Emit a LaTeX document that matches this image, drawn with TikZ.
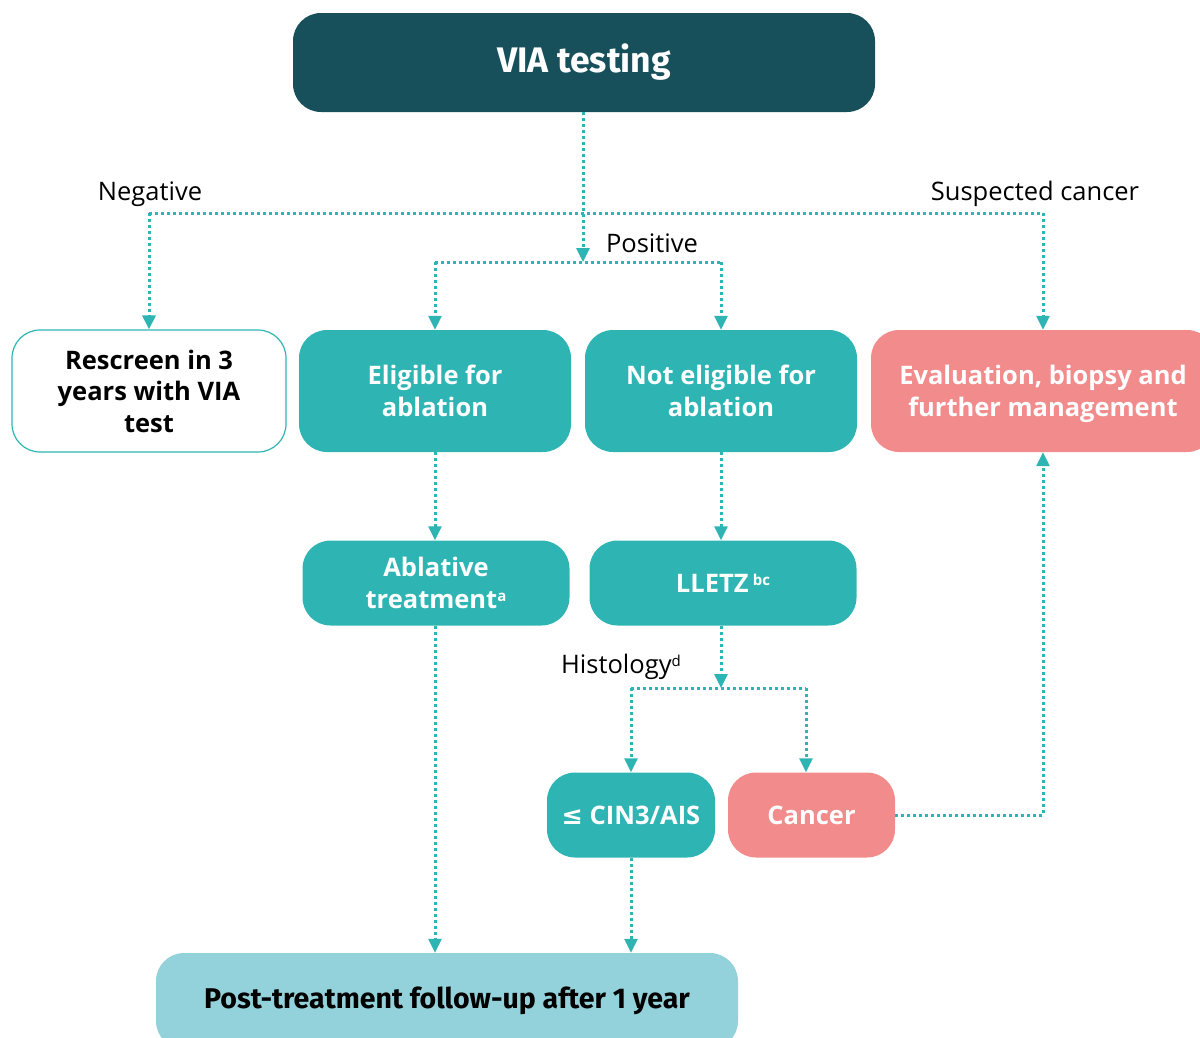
\documentclass[tikz,border=0pt]{standalone}
\usepackage{fontspec}
\setmainfont{Open Sans}
\newfontfamily\headfont{Fira Sans}
\newfontfamily\symfont{DejaVu Sans}
\usetikzlibrary{arrows.meta}
\definecolor{darkteal}{HTML}{17505B}
\definecolor{teal}{HTML}{2EB5B3}
\definecolor{salmon}{HTML}{F28B8C}
\definecolor{lightblue}{HTML}{94D2DB}
\begin{document}
\begin{tikzpicture}[x=1pt,y=-1pt,
  box/.style={rectangle, rounded corners=28pt, align=center, inner sep=0pt,
    font=\fontsize{25.5}{31.5}\selectfont\bfseries, text=white},
  dotline/.style={draw=teal, line width=3pt, dash pattern=on 3pt off 3pt},
  conn/.style={dotline, -{Triangle[width=13pt,length=14pt]}},
  lbl/.style={font=\fontsize{25.5}{30}\selectfont, text=black, inner sep=0pt}]
\useasboundingbox (0,0) rectangle (1200,1037);
% nodes
\node[box, fill=darkteal, minimum width=582pt, minimum height=99pt,
  font=\headfont\fontsize{35.5}{40}\selectfont\bfseries] (via) at (584,62.5) {VIA testing};
\node[box, fill=white, draw=teal, line width=1.2pt, text=black, minimum width=274pt, minimum height=122pt] (rescreen) at (149,391) {Rescreen in 3\\years with VIA\\test};
\node[box, fill=teal, minimum width=272pt, minimum height=122pt] (elig) at (435,391) {Eligible for\\ablation};
\node[box, fill=teal, minimum width=272pt, minimum height=122pt] (noelig) at (721,391) {Not eligible for\\ablation};
\node[box, fill=salmon, minimum width=344pt, minimum height=122pt] (eval) at (1043,391) {Evaluation, biopsy and\\\raisebox{0pt}[\height][0pt]{further management}};
\node[box, fill=teal, minimum width=267pt, minimum height=85pt] (abl) at (436,583) {Ablative\\treatment{\fontsize{15}{15}\selectfont\raisebox{0.85ex}{a}}};
\node[box, fill=teal, minimum width=267pt, minimum height=85pt] (lletz) at (723,583) {LLETZ\,{\fontsize{15}{15}\selectfont\raisebox{0.9ex}{bc}}};
\node[box, fill=teal, minimum width=168pt, minimum height=85pt] (cin) at (631,815) {{\symfont ≤} CIN3/AIS};
\node[box, fill=salmon, minimum width=167pt, minimum height=85pt] (cancer) at (811.5,815) {Cancer};
\node[box, fill=lightblue, text=black, minimum width=582pt, minimum height=96pt,
  font=\headfont\fontsize{28.5}{32}\selectfont\bfseries] (post) at (447,1001) {Post-treatment follow-up after 1 year};
% labels
\node[lbl] (neg) at (150,194) {Negative};
\node[lbl] (susp) at (1035,194) {Suspected cancer};
\node[lbl] (pos) at (652,243) {Positive};
\node[lbl] (hist) at (621,667) {Histology{\fontsize{15}{15}\selectfont\raisebox{0.9ex}{d}}};
% junctions
\coordinate (jtop) at (583,213);
\coordinate (jpos) at (583,262);
\coordinate (jneg) at (149,213);
\coordinate (jsus) at (1043,213);
\coordinate (jel) at (435,262);
\coordinate (jne) at (721,262);
\coordinate (jh) at (721,688);
\coordinate (jcin) at (631,688);
\coordinate (jcan) at (806,688);
% connectors
\draw[dotline] (jneg) -- (jsus);
\draw[conn] (via.south -| jtop) -- (jpos);
\draw[conn] (jneg) -- (rescreen.north);
\draw[conn] (jsus) -- (eval.north);
\draw[dotline] (jel) -- (jne);
\draw[conn] (jel) -- (elig.north);
\draw[conn] (jne) -- (noelig.north);
\draw[conn] (elig.south) -- (elig.south |- abl.north);
\draw[conn] (noelig.south) -- (noelig.south |- lletz.north);
\draw[conn] (elig.south |- abl.south) -- (elig.south |- post.north);
\draw[conn] (jh |- lletz.south) -- (jh);
\draw[dotline] (jcin) -- (jcan);
\draw[conn] (jcin) -- (jcin |- cin.north);
\draw[conn] (jcan) -- (jcan |- cancer.north);
\draw[conn] (cin.south) -- (cin.south |- post.north);
\draw[conn] (cancer.east) -| (eval.south);
\end{tikzpicture}
\end{document}
